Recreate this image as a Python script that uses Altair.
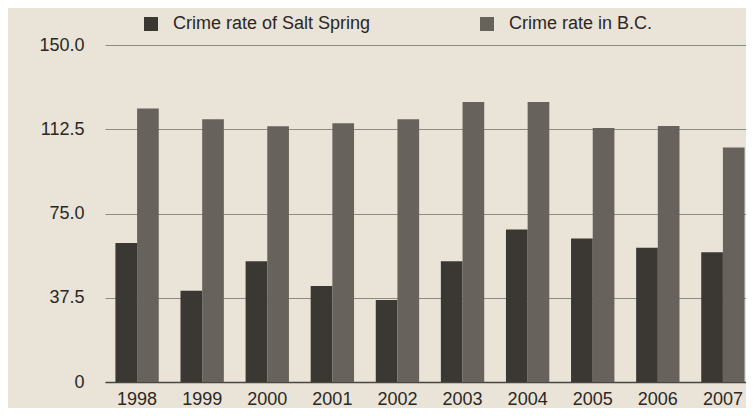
import altair as alt
import pandas as pd

years = ["1998", "1999", "2000", "2001", "2002", "2003", "2004", "2005", "2006", "2007"]
salt_spring = [61.9, 40.6, 53.7, 42.7, 36.5, 53.8, 67.9, 63.9, 59.7, 57.8]
bc = [121.7, 116.9, 113.8, 115.2, 116.9, 124.6, 124.6, 113.1, 114.0, 104.4]
series_names = ["Crime rate of Salt Spring", "Crime rate in B.C."]
series_colors = ["#3b3833", "#67635c"]
y_ticks = [0, 37.5, 75, 112.5, 150]

rows = []
for i, y in enumerate(years):
    rows.append({"year": y, "series": series_names[0], "value": salt_spring[i]})
    rows.append({"year": y, "series": series_names[1], "value": bc[i]})
df = pd.DataFrame(rows)

FONT = "Liberation Sans"
TXT = "#2b2824"

chart = alt.Chart(df).mark_bar().encode(
    x=alt.X("year:N", sort=years, title=None,
            scale=alt.Scale(paddingInner=0.334, paddingOuter=0.16, range=[0, 650]),
            axis=alt.Axis(labelAngle=0, ticks=False, tickSize=0, labelPadding=8,
                          labelFontSize=18, labelFont=FONT, labelColor=TXT,
                          domain=True, domainColor="#4a4640", domainWidth=1.5,
                          grid=False)),
    xOffset=alt.XOffset("series:N", sort=series_names),
    y=alt.Y("value:Q", title=None,
            scale=alt.Scale(domain=[0, 150], nice=False),
            axis=alt.Axis(values=y_ticks, ticks=False, tickSize=0, domain=False,
                          labelPadding=21, labelFontSize=18, labelFont=FONT,
                          labelColor=TXT,
                          labelExpr="datum.value == 0 ? '0' : format(datum.value, '.1f')",
                          grid=True, gridColor="#8f8a82", gridWidth=1)),
    color=alt.Color("series:N", sort=series_names,
                    scale=alt.Scale(domain=series_names, range=series_colors),
                    legend=alt.Legend(title=None, orient="none", legendX=37, legendY=-30,
                                      direction="horizontal", symbolType="square",
                                      symbolSize=196, symbolStrokeWidth=0,
                                      labelFontSize=18, labelFont=FONT, labelColor=TXT,
                                      labelLimit=0, labelOffset=13, columnPadding=107,
                                      padding=0)),
).properties(
    width=641,
    height=337,
    background="#e9e3d8",
    autosize=alt.AutoSizeParams(type="none"),
    padding={"left": 97, "top": 37, "right": 0, "bottom": 26},
).configure_view(stroke=None)

chart.save("out.html", embed_options={"renderer": "svg", "actions": False})
